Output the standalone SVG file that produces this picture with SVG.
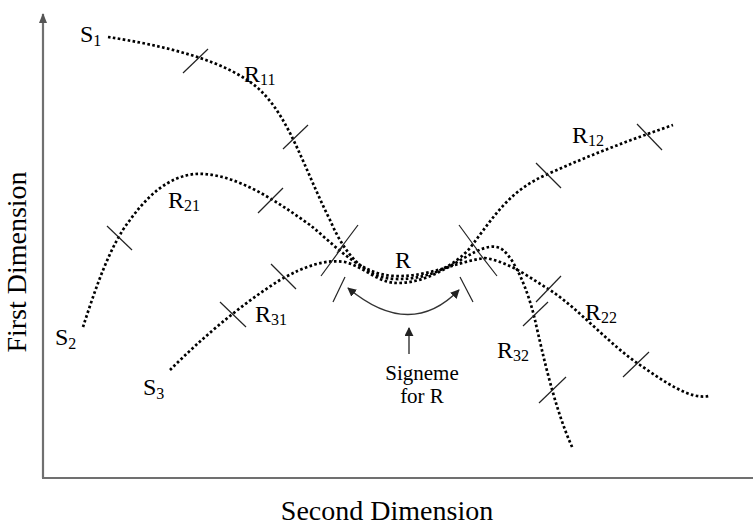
<svg xmlns="http://www.w3.org/2000/svg" width="753" height="525" viewBox="0 0 753 525">
<defs>
<style>
.curve{fill:none;stroke:#000;stroke-width:2.7;stroke-dasharray:2.6 2.4}
.tick{stroke:#222;stroke-width:1.2;fill:none}
.axis{stroke:#707070;stroke-width:2.2;fill:none}
.arr{stroke:#333;stroke-width:1.4;fill:none}
.lbl{font-family:"Liberation Serif","Times New Roman",serif;font-size:24px;fill:#000}
.sub{font-size:16px}
.axlbl{font-family:"Liberation Serif","Times New Roman",serif;font-size:28px;fill:#000}
.note{font-family:"Liberation Serif","Times New Roman",serif;font-size:21px;fill:#000;text-anchor:middle}
</style>
<marker id="ah" viewBox="0 0 10 10" refX="9" refY="5" markerWidth="9" markerHeight="9" markerUnits="userSpaceOnUse" orient="auto-start-reverse">
<path d="M0,0 L10,5 L0,10 z" fill="#222"/>
</marker>
<marker id="axh" viewBox="0 0 10 10" refX="9" refY="5" markerWidth="10" markerHeight="10" markerUnits="userSpaceOnUse" orient="auto">
<path d="M0,1 L10,5 L0,9 z" fill="#555"/>
</marker>
</defs>
<rect width="753" height="525" fill="#fff"/>
<g id="axes">
<line class="axis" x1="43" y1="478" x2="43" y2="14" marker-end="url(#axh)"/>
<line class="axis" x1="42" y1="478" x2="753" y2="478"/>
<text class="axlbl" x="387" y="520" text-anchor="middle">Second Dimension</text>
<text class="axlbl" transform="translate(26,262) rotate(-90)" text-anchor="middle">First Dimension</text>
</g>
<g id="connectors">
<path id="curve-s1" class="curve" d="M108,37 C160,45 230,60 262,92 C290,120 305,170 330,220 C345,255 365,278 395,279 C430,280 455,265 470,248 C495,215 510,190 548,174 C590,155 630,140 673,125"/>
<path id="curve-s2" class="curve" d="M83,327 C95,290 110,245 130,220 C155,185 180,172 205,174 C240,177 275,200 310,225 C335,245 360,275 395,276 C430,277 455,262 485,258 C510,262 530,278 550,290 C580,310 610,345 640,365 C665,382 690,400 709,396"/>
<path id="curve-s3" class="curve" d="M170,370 C200,340 240,305 280,280 C305,266 325,259 345,262 C365,267 378,284 400,283 C430,282 455,262 475,252 C485,247 495,244 503,250 C515,260 528,290 535,320 C543,355 555,410 573,449"/>
<g id="ticks">
<line class="tick" x1="183" y1="73" x2="208" y2="49"/>
<line class="tick" x1="283" y1="149" x2="308" y2="125"/>
<line class="tick" x1="107" y1="226" x2="132" y2="250"/>
<line class="tick" x1="258" y1="213" x2="283" y2="188"/>
<line class="tick" x1="358" y1="225" x2="337" y2="253"/>
<line class="tick" x1="343" y1="246" x2="321" y2="276"/>
<line class="tick" x1="459" y1="225" x2="478" y2="251"/>
<line class="tick" x1="476" y1="249" x2="497" y2="276"/>
<line class="tick" x1="536" y1="163" x2="561" y2="188"/>
<line class="tick" x1="637" y1="124" x2="662" y2="150"/>
<line class="tick" x1="220" y1="302" x2="246" y2="327"/>
<line class="tick" x1="271" y1="264" x2="296" y2="289"/>
<line class="tick" x1="536" y1="302" x2="561" y2="276"/>
<line class="tick" x1="523" y1="326" x2="548" y2="302"/>
<line class="tick" x1="623" y1="377" x2="649" y2="352"/>
<line class="tick" x1="539" y1="403" x2="566" y2="377"/>
<line class="tick" x1="345" y1="277" x2="333" y2="302"/>
<line class="tick" x1="460" y1="277" x2="473" y2="302"/>
</g>
<path id="signeme-span" class="arr" d="M348,288 Q410,340 459,290" marker-start="url(#ah)" marker-end="url(#ah)"/>
<line id="signeme-pointer" class="arr" x1="409" y1="354" x2="409" y2="328" marker-end="url(#ah)"/>
</g>
<g id="labels">
<text id="S1" class="lbl" x="80" y="42">S<tspan class="sub" dy="4">1</tspan></text>
<text id="S2" class="lbl" x="55" y="345">S<tspan class="sub" dy="4">2</tspan></text>
<text id="S3" class="lbl" x="143" y="395">S<tspan class="sub" dy="4">3</tspan></text>
<text id="R11" class="lbl" x="244" y="82">R<tspan class="sub" dy="3">11</tspan></text>
<text id="R12" class="lbl" x="572" y="143">R<tspan class="sub" dy="3">12</tspan></text>
<text id="R21" class="lbl" x="168" y="208">R<tspan class="sub" dy="3">21</tspan></text>
<text id="R22" class="lbl" x="585" y="320">R<tspan class="sub" dy="3">22</tspan></text>
<text id="R31" class="lbl" x="255" y="322">R<tspan class="sub" dy="3">31</tspan></text>
<text id="R32" class="lbl" x="497" y="358">R<tspan class="sub" dy="3">32</tspan></text>
<text id="R" class="lbl" x="395" y="268">R</text>
<text id="signeme" class="note" x="422" y="380">Signeme</text>
<text id="signeme2" class="note" x="422" y="403">for R</text>
</g>
</svg>
